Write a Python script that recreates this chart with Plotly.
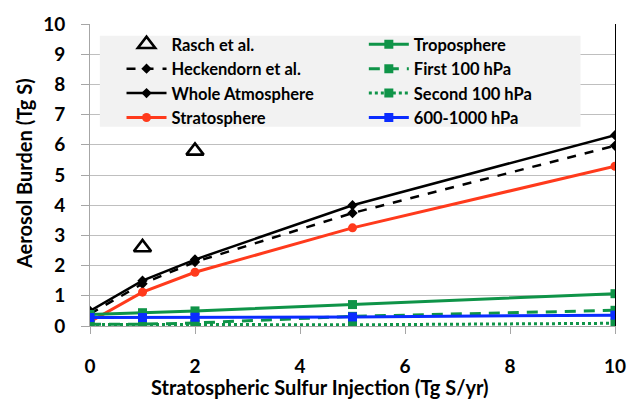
import plotly.graph_objects as go

injection = [0, 1, 2, 5, 10]
rasch_x = [1, 2]
rasch_y = [2.6, 5.8]
heckendorn = [0.40, 1.40, 2.12, 3.74, 5.97]
whole_atm = [0.50, 1.50, 2.20, 4.00, 6.32]
stratosphere = [0.14, 1.12, 1.78, 3.25, 5.29]
troposphere = [0.38, 0.44, 0.50, 0.71, 1.07]
first_100 = [0.06, 0.06, 0.10, 0.32, 0.52]
second_100 = [0.05, 0.04, 0.05, 0.04, 0.09]
hpa_600_1000 = [0.28, 0.28, 0.29, 0.30, 0.36]

x_ticks = [0, 2, 4, 6, 8, 10]
y_ticks = list(range(0, 11))

GREEN = "#0f9448"
RED = "#ff3a1c"
BLUE = "#0a2cff"
FONT = "Lato"

fig = go.Figure()

fig.add_trace(go.Scatter(x=rasch_x, y=rasch_y, mode="markers", name="Rasch et al.", legend="legend",
                         marker=dict(symbol="triangle-up-open", size=15, color="black",
                                     line=dict(width=2.6, color="black"))))
fig.add_trace(go.Scatter(x=injection, y=heckendorn, mode="lines+markers", name="Heckendorn et al.",
                         legend="legend",
                         line=dict(color="black", width=2.5, dash="dash"),
                         marker=dict(symbol="diamond", size=8, color="black")))
fig.add_trace(go.Scatter(x=injection, y=whole_atm, mode="lines+markers", name="Whole Atmosphere",
                         legend="legend",
                         line=dict(color="black", width=2.5),
                         marker=dict(symbol="diamond", size=8, color="black")))
fig.add_trace(go.Scatter(x=injection, y=stratosphere, mode="lines+markers", name="Stratosphere",
                         legend="legend",
                         line=dict(color=RED, width=3),
                         marker=dict(symbol="circle", size=9, color=RED)))
fig.add_trace(go.Scatter(x=injection, y=troposphere, mode="lines+markers", name="Troposphere",
                         legend="legend2",
                         line=dict(color=GREEN, width=3),
                         marker=dict(symbol="square", size=9, color=GREEN)))
fig.add_trace(go.Scatter(x=injection, y=first_100, mode="lines+markers", name="First 100 hPa",
                         legend="legend2",
                         line=dict(color=GREEN, width=3, dash="11px,8px"),
                         marker=dict(symbol="square", size=9, color=GREEN)))
fig.add_trace(go.Scatter(x=injection, y=second_100, mode="lines+markers", name="Second 100 hPa",
                         legend="legend2",
                         line=dict(color=GREEN, width=3, dash="dot"),
                         marker=dict(symbol="square", size=9, color=GREEN)))
fig.add_trace(go.Scatter(x=injection, y=hpa_600_1000, mode="lines+markers", name="600-1000 hPa",
                         legend="legend2",
                         line=dict(color=BLUE, width=3),
                         marker=dict(symbol="square", size=9, color=BLUE)))

# invisible trace on second y axis to show right-hand black border line
fig.add_trace(go.Scatter(x=[], y=[], yaxis="y2", showlegend=False))

legend_common = dict(orientation="v", xanchor="left", yanchor="top",
                     bgcolor="rgba(0,0,0,0)", itemwidth=40, tracegroupgap=0,
                     font=dict(family=FONT, size=16.5, color="black", weight="bold"),
                     itemclick=False)

fig.update_layout(
    width=638, height=410,
    margin=dict(l=90, r=15, t=20, b=84),
    paper_bgcolor="white", plot_bgcolor="white",
    font=dict(family=FONT, color="black"),
    showlegend=True,
    xaxis=dict(range=[0, 10], tickvals=x_ticks, showgrid=False, zeroline=False,
               showline=True, linecolor="#a6a6a6", linewidth=1,
               ticks="outside", ticklen=7, tickcolor="#a6a6a6",
               tickfont=dict(family=FONT, size=19, color="black", weight="bold"),
               ticklabelstandoff=16),
    yaxis=dict(range=[0, 10], tickvals=y_ticks, showgrid=True, gridcolor="#bfbfbf",
               gridwidth=1, zeroline=False, showline=True, linecolor="#a6a6a6",
               ticks="outside", ticklen=8, tickcolor="#a6a6a6",
               tickfont=dict(family=FONT, size=19, color="black", weight="bold"),
               ticklabelstandoff=12),
    yaxis2=dict(overlaying="y", side="right", range=[0, 10], showgrid=False,
                showticklabels=False, showline=True, linecolor="black", linewidth=1.2,
                zeroline=False, ticks=""),
    legend=dict(x=(122 - 90) / 533, y=(326 - 23) / 306, **legend_common),
    legend2=dict(x=(368 - 90) / 533, y=(326 - 23) / 306, **legend_common),
    shapes=[dict(type="rect", xref="paper", yref="paper",
                 x0=(100 - 90) / 533, x1=(588 - 90) / 533,
                 y0=(326 - 124) / 306, y1=(326 - 32) / 306,
                 fillcolor="#f2f2f2", line=dict(width=0), layer="above")],
    annotations=[
        dict(text="Stratospheric Sulfur Injection (Tg S/yr)", xref="paper", yref="paper",
             x=(323 - 90) / 533, y=(326 - 388) / 306, xanchor="center", yanchor="middle",
             showarrow=False, font=dict(family=FONT, size=20, color="black", weight="bold")),
        dict(text="Aerosol Burden (Tg S)", xref="paper", yref="paper", textangle=-90,
             x=(23 - 90) / 533, y=(326 - 172) / 306, xanchor="center", yanchor="middle",
             showarrow=False, font=dict(family=FONT, size=20, color="black", weight="bold")),
    ],
)

fig.write_html("out.html")
